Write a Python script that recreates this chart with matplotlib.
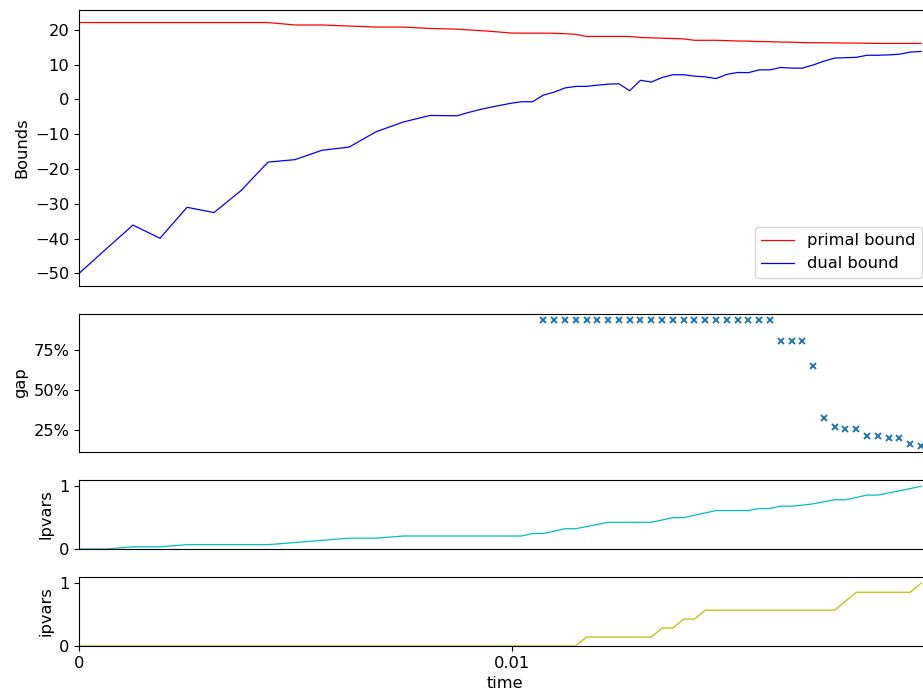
import matplotlib
matplotlib.use("Agg")
import matplotlib.pyplot as plt
from matplotlib.ticker import FuncFormatter

plt.rcParams["font.size"] = 11.7

# time stamps (s)
time = [0.0, 0.000624, 0.001248, 0.001872, 0.002496, 0.00312, 0.003744, 0.004368,
        0.004992, 0.005616, 0.00624, 0.006864, 0.007488, 0.008112, 0.008736,
        0.008985, 0.009235, 0.009484, 0.009734, 0.009983, 0.010232, 0.010482,
        0.010731, 0.010981, 0.01123, 0.01148, 0.011729, 0.011978, 0.012228,
        0.012477, 0.012726, 0.012976, 0.013225, 0.013475, 0.013724, 0.013973,
        0.014223, 0.014472, 0.014722, 0.014971, 0.01522, 0.01547, 0.015719,
        0.015969, 0.016218, 0.016467, 0.016717, 0.016966, 0.017216, 0.017465,
        0.017714, 0.017964, 0.018213, 0.018463, 0.018712, 0.018961, 0.019211,
        0.01946]

primal = [22.1, 22.1, 22.1, 22.1, 22.1, 22.1, 22.1, 22.1,
          21.4, 21.4, 21.1, 20.8, 20.8, 20.4, 20.2,
          20.0, 19.8, 19.6, 19.35, 19.1, 19.05, 19.05, 19.05, 19.0, 18.9,
          18.7, 18.1, 18.1, 18.1, 18.1, 18.1, 17.8, 17.7, 17.6, 17.5, 17.4,
          17.0, 17.0, 17.0, 16.9, 16.8, 16.75, 16.65, 16.6, 16.5, 16.45,
          16.35, 16.3, 16.3, 16.25, 16.2, 16.2, 16.15, 16.1, 16.1, 16.1,
          16.1, 16.1]

dual = [-50.0, -43.0, -36.1, -39.9, -31.0, -32.5, -26.2, -18.0,
        -17.3, -14.6, -13.7, -9.3, -6.5, -4.6, -4.7,
        -3.8, -3.0, -2.3, -1.7, -1.1, -0.65, -0.65, 1.25, 2.1, 3.3,
        3.75, 3.75, 4.1, 4.4, 4.5, 2.5, 5.5, 5.0, 6.3, 7.1, 7.1,
        6.7, 6.5, 6.0, 7.2, 7.75, 7.7, 8.5, 8.5, 9.2, 9.0,
        9.0, 9.9, 11.0, 11.9, 12.0, 12.1, 12.7, 12.7, 12.8, 13.0,
        13.6, 13.8]

# gap (%) is only reported from the 23rd time stamp on
gap_start = 22
gap = [93.6] * 22 + [80.4, 80.4, 80.4, 64.7, 32.3, 26.6, 25.4, 25.4,
                     21.2, 20.7, 19.7, 19.5, 16.1, 14.9]

lpvars = [0.0, 0.0, 0.034, 0.034, 0.069, 0.069, 0.069, 0.069,
          0.103, 0.138, 0.172, 0.172, 0.207, 0.207, 0.207,
          0.207, 0.207, 0.207, 0.207, 0.207, 0.207,
          0.247, 0.247, 0.285, 0.323, 0.323, 0.357, 0.391, 0.425, 0.425,
          0.425, 0.425, 0.425, 0.462, 0.50, 0.50, 0.538, 0.575, 0.613,
          0.613, 0.613, 0.613, 0.645, 0.645, 0.683, 0.683, 0.70, 0.72,
          0.753, 0.785, 0.785, 0.822, 0.86, 0.86, 0.894, 0.928, 0.963, 1.0]

ipvars = [0.0] * 26 + [0.143] * 7 + [0.286] * 2 + [0.429] * 2 + [0.571] * 13 \
         + [0.714] + [0.857] * 6 + [1.0]

xticks = [0, 0.01]
xticklabels = ["0", "0.01"]

fig = plt.figure(figsize=(9.23, 6.95), dpi=100)
gs = fig.add_gridspec(4, 1, height_ratios=[4, 2, 1, 1], hspace=0.203,
                      left=79 / 923, right=930 / 923,
                      top=1 - 10 / 695, bottom=1 - 646 / 695)
ax1 = fig.add_subplot(gs[0])
ax2 = fig.add_subplot(gs[1], sharex=ax1)
ax3 = fig.add_subplot(gs[2], sharex=ax1)
ax4 = fig.add_subplot(gs[3], sharex=ax1)

ax1.plot(time, primal, color="r", lw=0.9, label="primal bound")
ax1.plot(time, dual, color="b", lw=0.9, label="dual bound")
ax1.set_ylabel("Bounds")
ax1.legend(loc="lower right")

ax2.plot(time[gap_start:], gap, linestyle="none", marker="x", markersize=4.5,
         markeredgewidth=1.4, color="#1f77b4")
ax2.set_ylabel("gap")
ax2.set_yticks([25, 50, 75])
ax2.yaxis.set_major_formatter(FuncFormatter(lambda v, p: f"{v:.0f}%"))

ax3.plot(time, lpvars, color="c", lw=0.9)
ax3.set_ylabel("lpvars")
ax3.set_ylim(0, 1.1)
ax3.set_yticks([0, 1])

ax4.plot(time, ipvars, color="y", lw=0.9)
ax4.set_ylabel("ipvars")
ax4.set_ylim(0, 1.1)
ax4.set_yticks([0, 1])

for ax in (ax1, ax2, ax3):
    ax.tick_params(axis="x", bottom=False, labelbottom=False)

ax4.set_xlim(0, (930 - 79) / 43270)
ax4.set_xticks(xticks)
ax4.set_xticklabels(xticklabels)
ax4.set_xlabel("time")

fig.savefig("out.png", dpi=100)
